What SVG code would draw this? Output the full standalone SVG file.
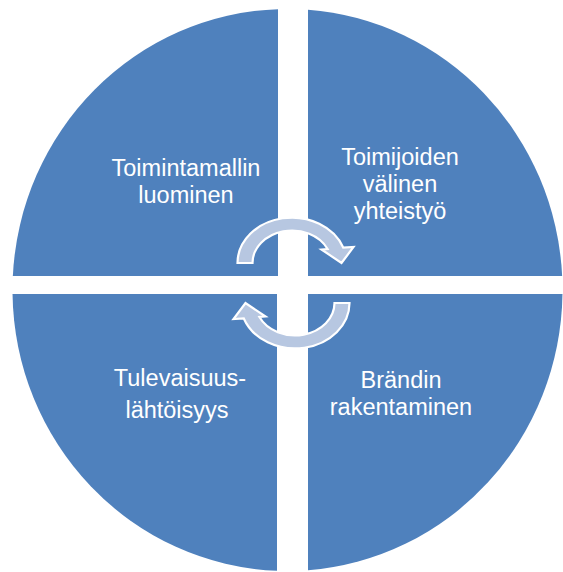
<svg xmlns="http://www.w3.org/2000/svg" xmlns:xlink="http://www.w3.org/1999/xlink" width="563" height="572" viewBox="0 0 563 572">
<style>
.q{fill:#4F81BD;}
.t{font-family:"Liberation Sans",Arial,sans-serif;font-size:23.5px;fill:#FFFFFF;text-anchor:middle;}
.arr{fill:#B7C7E1;stroke:#FFFFFF;stroke-width:2.2;stroke-linejoin:miter;}
</style>
<defs>
<path id="cyc" d="M 237.5 263 A 54.5 45.5 0 0 1 343.2 247.5 L 353.5 247 L 341.5 263 L 321.5 249.5 L 327.6 249 A 39.5 32.5 0 0 0 252.5 263 Z"/>
</defs>
<rect width="563" height="572" fill="#FFFFFF"/>
<g id="node-toimintamallin">
<path class="q" d="M 278 276 L 12.84 276 A 275 281 0 0 1 278 9.17 Z"/>
<text class="t" x="186" y="176">Toimintamallin</text>
<text class="t" x="186" y="203">luominen</text>
</g>
<g id="node-toimijoiden">
<path class="q" d="M 308 276 L 308 9.78 A 275 281 0 0 1 562.16 276 Z"/>
<text class="t" x="400" y="165">Toimijoiden</text>
<text class="t" x="400" y="192">välinen</text>
<text class="t" x="400" y="219">yhteistyö</text>
</g>
<g id="node-tulevaisuus">
<path class="q" d="M 277 294 L 277 570.8 A 275 281 0 0 1 12.53 294 Z"/>
<text class="t" x="180" y="386">Tulevaisuus-</text>
<text class="t" x="177" y="418">lähtöisyys</text>
</g>
<g id="node-brandin">
<path class="q" d="M 308 294 L 562.47 294 A 275 281 0 0 1 308 570.22 Z"/>
<text class="t" x="401" y="388">Brändin</text>
<text class="t" x="401" y="415">rakentaminen</text>
</g>
<g id="connectors">
<use xlink:href="#cyc" class="arr"/>
<use xlink:href="#cyc" class="arr" transform="rotate(180 293.5 283)"/>
</g>
</svg>
